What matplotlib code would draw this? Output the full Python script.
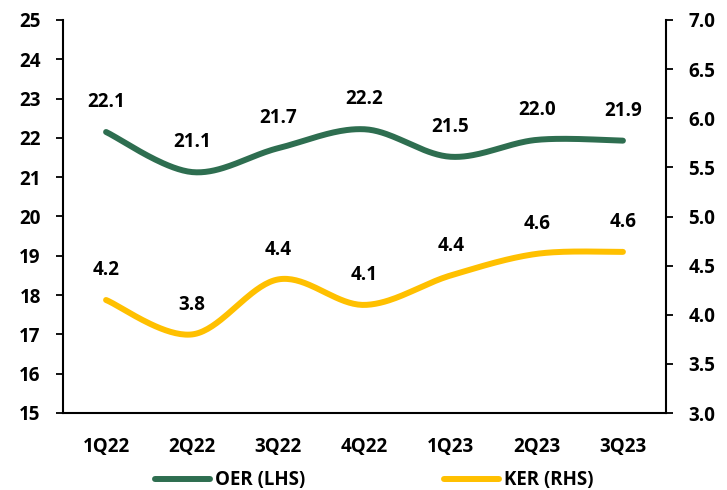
import numpy as np
import matplotlib
matplotlib.use("Agg")
import matplotlib.pyplot as plt
from matplotlib.lines import Line2D

categories = ["1Q22", "2Q22", "3Q22", "4Q22", "1Q23", "2Q23", "3Q23"]
oer = [22.15, 21.13, 21.74, 22.22, 21.52, 21.95, 21.93]
ker = [4.15, 3.80, 4.36, 4.10, 4.40, 4.62, 4.64]
oer_labels = ["22.1", "21.1", "21.7", "22.2", "21.5", "22.0", "21.9"]
ker_labels = ["4.2", "3.8", "4.4", "4.1", "4.4", "4.6", "4.6"]

GREEN = "#2E6E50"
YELLOW = "#FFC000"

plt.rcParams['font.family'] = ['Open Sans', 'DejaVu Sans']
plt.rcParams['font.weight'] = 'bold'
FS = 13.5


def smooth(xs, ys, n=40):
    """Catmull-Rom style smoothing (like Excel smoothed lines)."""
    xs = np.asarray(xs, float)
    ys = np.asarray(ys, float)
    px = np.concatenate([[xs[0]], xs, [xs[-1]]])
    py = np.concatenate([[ys[0]], ys, [ys[-1]]])
    outx, outy = [], []
    for i in range(1, len(px) - 2):
        p0 = np.array([px[i - 1], py[i - 1]])
        p1 = np.array([px[i], py[i]])
        p2 = np.array([px[i + 1], py[i + 1]])
        p3 = np.array([px[i + 2], py[i + 2]])
        c1 = p1 + (p2 - p0) / 6
        c2 = p2 - (p3 - p1) / 6
        t = np.linspace(0, 1, n)[:, None]
        b = ((1 - t) ** 3) * p1 + 3 * ((1 - t) ** 2) * t * c1 + 3 * (1 - t) * t ** 2 * c2 + t ** 3 * p2
        outx.extend(b[:, 0])
        outy.extend(b[:, 1])
    return np.array(outx), np.array(outy)


fig = plt.figure(figsize=(7.27, 4.90), dpi=100)
ax = fig.add_axes([63 / 727, 1 - 413 / 490, (666 - 63) / 727, (413 - 20) / 490])
ax2 = ax.twinx()

x = np.arange(len(categories))

sx, sy = smooth(x, oer)
ax.plot(sx, sy, color=GREEN, lw=4.3, solid_capstyle='round')
sx2, sy2 = smooth(x, ker)
ax2.plot(sx2, sy2, color=YELLOW, lw=4.3, solid_capstyle='round')

for xi, v, lab in zip(x, oer, oer_labels):
    ax.annotate(lab, (xi, v), xytext=(0, 21.5), textcoords='offset points',
                ha='center', va='center', fontsize=FS, fontweight='bold')
for xi, v, lab in zip(x, ker, ker_labels):
    ax2.annotate(lab, (xi, v), xytext=(0, 21.5), textcoords='offset points',
                 ha='center', va='center', fontsize=FS, fontweight='bold')

ax.set_xlim(-0.5, len(categories) - 0.5)
ax.set_ylim(15, 25)
ax.set_yticks(np.arange(15, 26, 1))
ax2.set_ylim(3.0, 7.0)
ax2.set_yticks(np.arange(3.0, 7.01, 0.5))
ax2.set_yticklabels([f"{v:.1f}" for v in np.arange(3.0, 7.01, 0.5)])

ax.set_xticks(x)
ax.set_xticklabels(categories)

for a in (ax, ax2):
    a.spines['top'].set_visible(False)
    for s in ('left', 'right', 'bottom'):
        a.spines[s].set_linewidth(1.5)
        a.spines[s].set_color('black')
ax.spines['right'].set_visible(False)
ax2.spines['left'].set_visible(False)
ax2.spines['bottom'].set_visible(False)

ax.tick_params(axis='y', direction='out', length=5, width=1.3, pad=11, labelsize=FS)
ax.tick_params(axis='x', length=0, pad=17, labelsize=FS)
ax2.tick_params(axis='y', direction='out', length=5, width=1.3, pad=11, labelsize=FS)
for lab in ax.get_yticklabels() + ax.get_xticklabels() + ax2.get_yticklabels():
    lab.set_fontweight('bold')

handles = [Line2D([0], [0], color=GREEN, lw=4.3, solid_capstyle='round'),
           Line2D([0], [0], color=YELLOW, lw=4.3, solid_capstyle='round')]
fig.legend(handles, ["OER (LHS)", "KER (RHS)"], loc='center', bbox_to_anchor=(0.515, 0.02),
           ncol=2, frameon=False, handlelength=2.9, handletextpad=0.3, columnspacing=7.4,
           prop={'size': FS, 'weight': 'bold'})

fig.savefig("out.png", dpi=100)
